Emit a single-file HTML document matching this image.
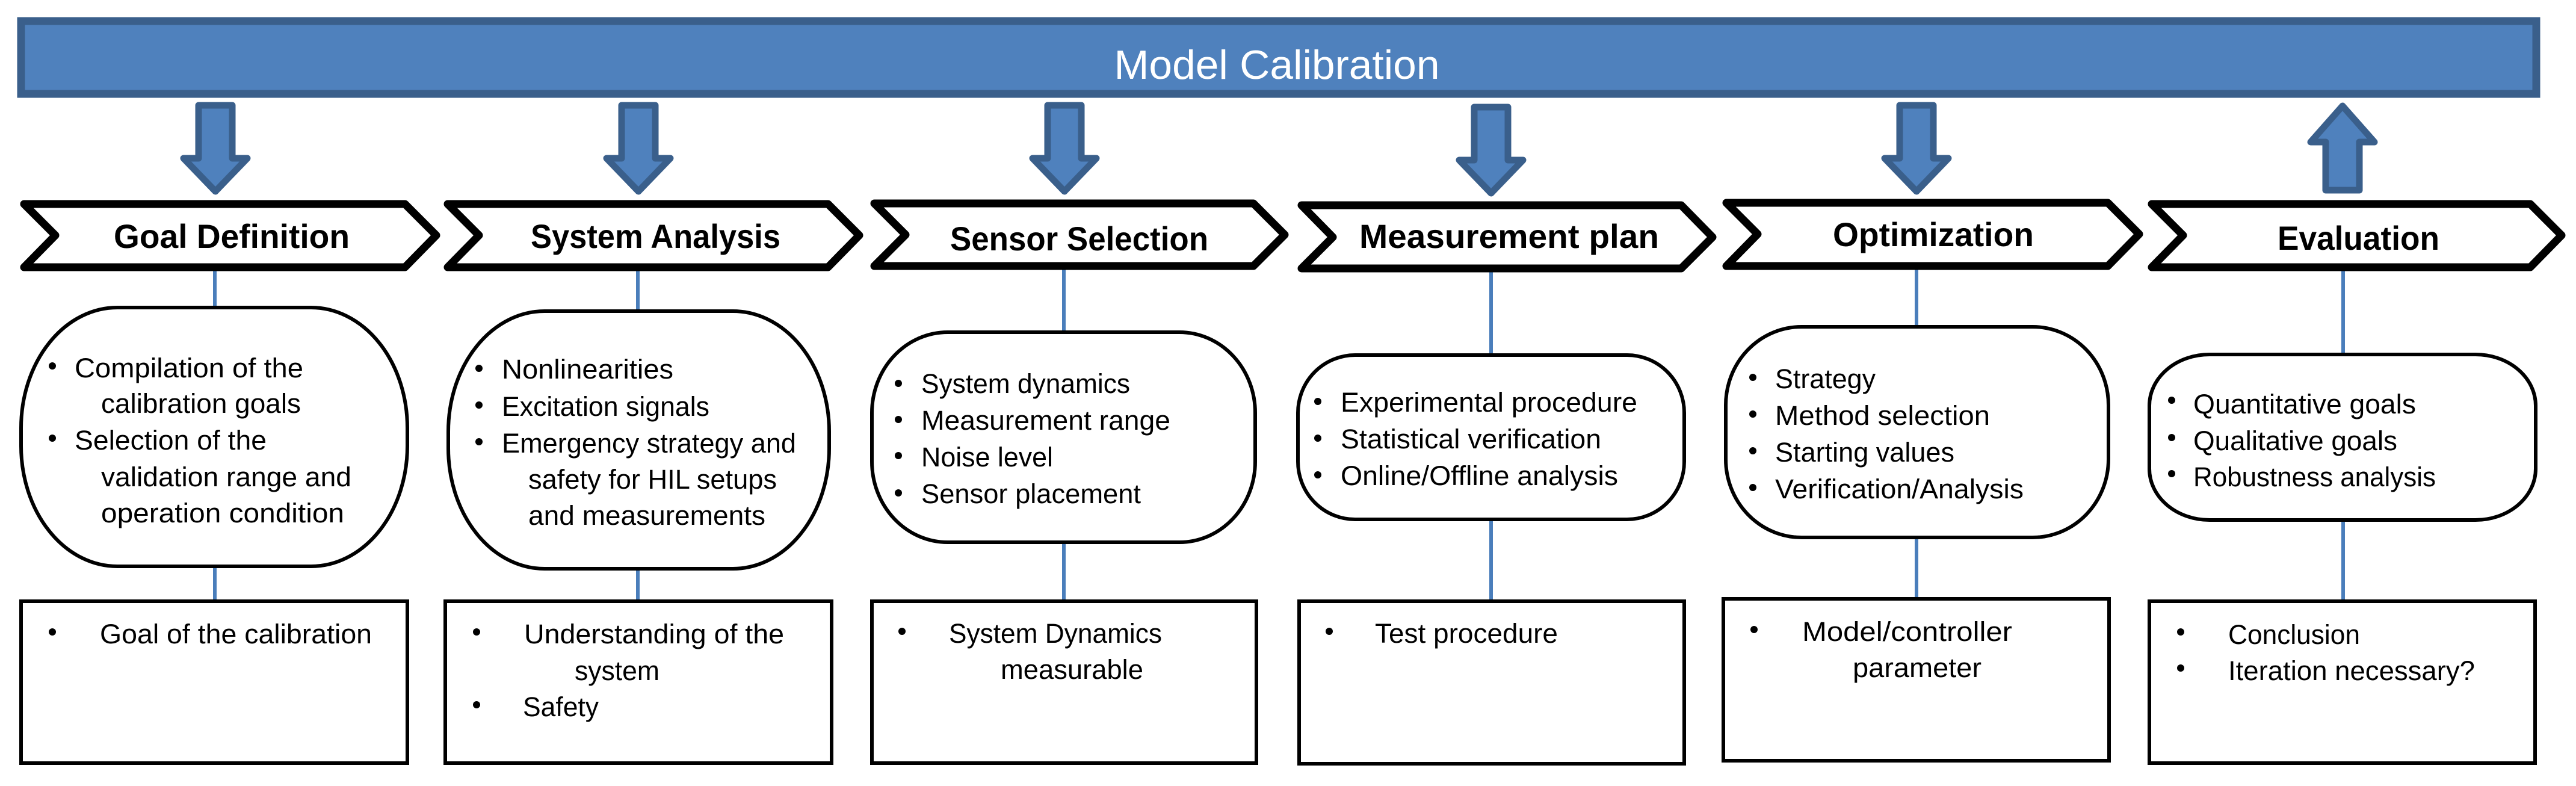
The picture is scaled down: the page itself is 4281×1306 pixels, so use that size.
<!DOCTYPE html>
<html><head><meta charset="utf-8"><style>
html,body{margin:0;padding:0;background:#fff;}
svg{display:block;}
text{font-family:"Liberation Sans",sans-serif;fill:#000;}
.h{font-weight:bold;font-size:56px;}
.b{font-size:45px;}
</style></head><body>
<svg width="4281" height="1306" viewBox="0 0 4281 1306" xmlns="http://www.w3.org/2000/svg">
<rect x="35" y="35" width="4180" height="121" fill="#4F81BD" stroke="#3A5F8B" stroke-width="13"/>
<text x="2122" y="131" font-size="68" style="fill:#fff" text-anchor="middle" textLength="541" lengthAdjust="spacingAndGlyphs">Model Calibration</text>

<g fill="#4F81BD" stroke="#3A5F8B" stroke-width="11" stroke-linejoin="round">
<path d="M330,175 H386 V263 H411 L358,318 L305,263 H330 Z"/>
<path d="M1033,175 H1089 V263 H1114 L1061,318 L1008,263 H1033 Z"/>
<path d="M1741,175 H1797 V263 H1822 L1769,318 L1716,263 H1741 Z"/>
<path d="M2450,178 H2506 V266 H2531 L2478,321 L2425,266 H2450 Z"/>
<path d="M3157,175 H3213 V263 H3238 L3185,318 L3132,263 H3157 Z"/>
<path d="M3865,316 H3921 V236 H3946 L3893,176 L3840,236 H3865 Z"/>
</g>

<g stroke="#4A7EBB" stroke-width="6">
<line x1="357" y1="448" x2="357" y2="510"/><line x1="357" y1="942" x2="357" y2="998"/>
<line x1="1060" y1="448" x2="1060" y2="516"/><line x1="1060" y1="946" x2="1060" y2="998"/>
<line x1="1768" y1="446" x2="1768" y2="551"/><line x1="1768" y1="902" x2="1768" y2="998"/>
<line x1="2478" y1="450" x2="2478" y2="589"/><line x1="2478" y1="864" x2="2478" y2="998"/>
<line x1="3185" y1="446" x2="3185" y2="542"/><line x1="3185" y1="894" x2="3185" y2="994"/>
<line x1="3894" y1="448" x2="3894" y2="588"/><line x1="3894" y1="865" x2="3894" y2="998"/>
</g>

<g fill="#fff" stroke="#000" stroke-width="13" stroke-linejoin="round">
<path d="M40,339 H673 L725,391 L673,444 H40 L92,391 Z"/>
<path d="M744,339 H1376 L1428,391 L1376,444 H744 L796,391 Z"/>
<path d="M1453,338 H2083 L2135,390 L2083,442 H1453 L1505,390 Z"/>
<path d="M2163,341 H2794 L2846,394 L2794,446 H2163 L2215,394 Z"/>
<path d="M2869,337 H3503 L3555,389 L3503,442 H2869 L2921,389 Z"/>
<path d="M3576,339 H4205 L4257,391 L4205,444 H3576 L3628,391 Z"/>
</g>
<text class="h" x="189" y="412" textLength="392" lengthAdjust="spacingAndGlyphs">Goal Definition</text>
<text class="h" x="882" y="412" textLength="415" lengthAdjust="spacingAndGlyphs">System Analysis</text>
<text class="h" x="1579" y="416" textLength="429" lengthAdjust="spacingAndGlyphs">Sensor Selection</text>
<text class="h" x="2259" y="412" textLength="498" lengthAdjust="spacingAndGlyphs">Measurement plan</text>
<text class="h" x="3046" y="409" textLength="334" lengthAdjust="spacingAndGlyphs">Optimization</text>
<text class="h" x="3785" y="415" textLength="269" lengthAdjust="spacingAndGlyphs">Evaluation</text>

<g fill="#fff" stroke="#000" stroke-width="6">
<rect x="35" y="511" width="642" height="430" rx="160" ry="200"/>
<rect x="745" y="517" width="633" height="428" rx="160" ry="200"/>
<rect x="1449" y="552" width="637" height="349" rx="126" ry="134"/>
<rect x="2157" y="590" width="642" height="273" rx="95" ry="96"/>
<rect x="2868" y="543" width="636" height="350" rx="126" ry="130"/>
<rect x="3572" y="589" width="642" height="275" rx="100" ry="85"/>
</g>
<g fill="#fff" stroke="#000" stroke-width="6">
<rect x="35" y="999" width="642" height="269"/>
<rect x="740" y="999" width="642" height="269"/>
<rect x="1449" y="999" width="639" height="269"/>
<rect x="2159" y="999" width="640" height="270"/>
<rect x="2864" y="995" width="641" height="269"/>
<rect x="3572" y="999" width="641" height="269"/>
</g>

<g fill="#000">
<circle cx="87" cy="608" r="6"/><circle cx="87" cy="728" r="6"/>
<circle cx="796" cy="612" r="6"/><circle cx="796" cy="673" r="6"/><circle cx="796" cy="734" r="6"/>
<circle cx="1493" cy="637" r="6"/><circle cx="1493" cy="697" r="6"/><circle cx="1493" cy="757" r="6"/><circle cx="1493" cy="819" r="6"/>
<circle cx="2190" cy="667" r="6"/><circle cx="2190" cy="728" r="6"/><circle cx="2190" cy="789" r="6"/>
<circle cx="2913" cy="627" r="6"/><circle cx="2913" cy="688" r="6"/><circle cx="2913" cy="749" r="6"/><circle cx="2913" cy="810" r="6"/>
<circle cx="3609" cy="665" r="6"/><circle cx="3609" cy="727" r="6"/><circle cx="3609" cy="787" r="6"/>
<circle cx="87" cy="1050" r="6"/>
<circle cx="792" cy="1050" r="6"/><circle cx="792" cy="1171" r="6"/>
<circle cx="1499" cy="1049" r="6"/>
<circle cx="2209" cy="1049" r="6"/>
<circle cx="2915" cy="1046" r="6"/>
<circle cx="3624" cy="1050" r="6"/><circle cx="3624" cy="1110" r="6"/>
</g>

<g>
<text class="b" x="124" y="627" textLength="380" lengthAdjust="spacingAndGlyphs">Compilation of the</text>
<text class="b" x="168" y="686" textLength="332" lengthAdjust="spacingAndGlyphs">calibration goals</text>
<text class="b" x="124" y="747" textLength="319" lengthAdjust="spacingAndGlyphs">Selection of the</text>
<text class="b" x="168" y="808" textLength="416" lengthAdjust="spacingAndGlyphs">validation range and</text>
<text class="b" x="168" y="868" textLength="404" lengthAdjust="spacingAndGlyphs">operation condition</text>

<text class="b" x="834" y="629" textLength="285" lengthAdjust="spacingAndGlyphs">Nonlinearities</text>
<text class="b" x="834" y="691" textLength="345" lengthAdjust="spacingAndGlyphs">Excitation signals</text>
<text class="b" x="834" y="752" textLength="489" lengthAdjust="spacingAndGlyphs">Emergency strategy and</text>
<text class="b" x="878" y="812" textLength="413" lengthAdjust="spacingAndGlyphs">safety for HIL setups</text>
<text class="b" x="878" y="872" textLength="394" lengthAdjust="spacingAndGlyphs">and measurements</text>

<text class="b" x="1531" y="653" textLength="347" lengthAdjust="spacingAndGlyphs">System dynamics</text>
<text class="b" x="1531" y="714" textLength="414" lengthAdjust="spacingAndGlyphs">Measurement range</text>
<text class="b" x="1531" y="775" textLength="219" lengthAdjust="spacingAndGlyphs">Noise level</text>
<text class="b" x="1531" y="836" textLength="365" lengthAdjust="spacingAndGlyphs">Sensor placement</text>

<text class="b" x="2228" y="684" textLength="493" lengthAdjust="spacingAndGlyphs">Experimental procedure</text>
<text class="b" x="2228" y="745" textLength="433" lengthAdjust="spacingAndGlyphs">Statistical verification</text>
<text class="b" x="2228" y="806" textLength="461" lengthAdjust="spacingAndGlyphs">Online/Offline analysis</text>

<text class="b" x="2950" y="645" textLength="167" lengthAdjust="spacingAndGlyphs">Strategy</text>
<text class="b" x="2950" y="706" textLength="357" lengthAdjust="spacingAndGlyphs">Method selection</text>
<text class="b" x="2950" y="767" textLength="298" lengthAdjust="spacingAndGlyphs">Starting values</text>
<text class="b" x="2950" y="828" textLength="413" lengthAdjust="spacingAndGlyphs">Verification/Analysis</text>

<text class="b" x="3645" y="687" textLength="370" lengthAdjust="spacingAndGlyphs">Quantitative goals</text>
<text class="b" x="3645" y="748" textLength="339" lengthAdjust="spacingAndGlyphs">Qualitative goals</text>
<text class="b" x="3645" y="808" textLength="403" lengthAdjust="spacingAndGlyphs">Robustness analysis</text>

<text class="b" x="166" y="1069" textLength="452" lengthAdjust="spacingAndGlyphs">Goal of the calibration</text>

<text class="b" x="871" y="1069" textLength="432" lengthAdjust="spacingAndGlyphs">Understanding of the</text>
<text class="b" x="955" y="1130" textLength="141" lengthAdjust="spacingAndGlyphs">system</text>
<text class="b" x="869" y="1190" textLength="126" lengthAdjust="spacingAndGlyphs">Safety</text>

<text class="b" x="1577" y="1068" textLength="354" lengthAdjust="spacingAndGlyphs">System Dynamics</text>
<text class="b" x="1663" y="1128" textLength="237" lengthAdjust="spacingAndGlyphs">measurable</text>

<text class="b" x="2285" y="1068" textLength="304" lengthAdjust="spacingAndGlyphs">Test procedure</text>

<text class="b" x="2995" y="1065" textLength="349" lengthAdjust="spacingAndGlyphs">Model/controller</text>
<text class="b" x="3079" y="1125" textLength="214" lengthAdjust="spacingAndGlyphs">parameter</text>

<text class="b" x="3703" y="1070" textLength="219" lengthAdjust="spacingAndGlyphs">Conclusion</text>
<text class="b" x="3703" y="1130" textLength="410" lengthAdjust="spacingAndGlyphs">Iteration necessary?</text>
</g>
</svg>
</body></html>
